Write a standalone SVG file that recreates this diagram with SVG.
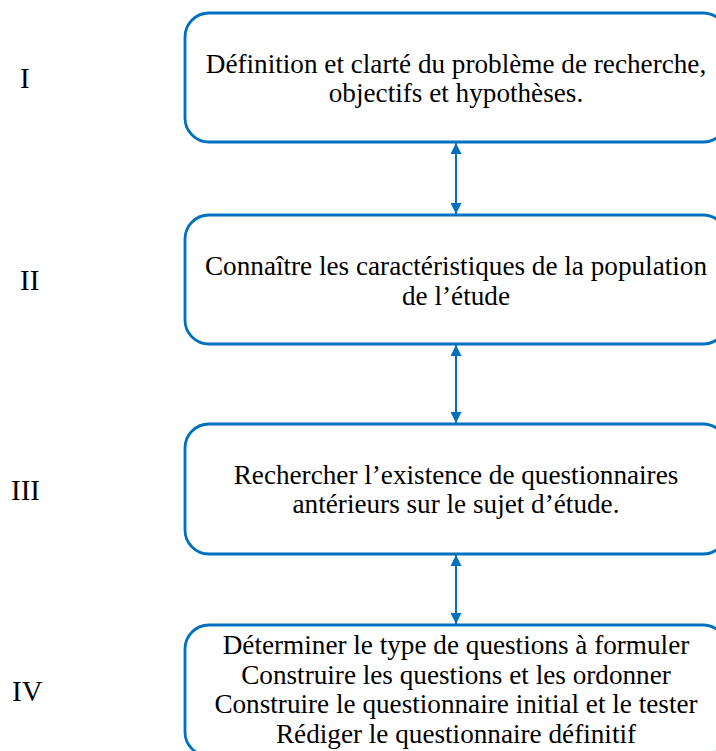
<svg xmlns="http://www.w3.org/2000/svg" width="716" height="751" viewBox="0 0 716 751">
<style>
.box{fill:#fff;stroke:#0070C0;stroke-width:2.8}
.t{font-family:"Liberation Serif","Times New Roman",serif;font-size:27.2px;fill:#000;text-anchor:middle}
.n{font-family:"Liberation Serif","Times New Roman",serif;font-size:29px;fill:#000}
.c{stroke:#0070C0;stroke-width:2;fill:none;marker-start:url(#ah);marker-end:url(#ah)}
</style>
<defs>
<marker id="ah" viewBox="0 0 10 10" refX="10" refY="5" markerWidth="11" markerHeight="11" markerUnits="userSpaceOnUse" orient="auto-start-reverse">
<path d="M0,0 L10,5 L0,10 z" fill="#0070C0"/>
</marker>
</defs>
<rect width="716" height="751" fill="#fff"/>
<g id="labels">
<text class="n" x="20" y="88">I</text>
<text class="n" x="20" y="290">II</text>
<text class="n" x="11" y="500">III</text>
<text class="n" x="12" y="701">IV</text>
</g>
<g id="node1">
<rect class="box" x="185" y="13" width="542" height="129" rx="24"/>
<text class="t" x="456" y="72.5">Définition et clarté du problème de recherche,</text>
<text class="t" x="456" y="102">objectifs et hypothèses.</text>
</g>
<g id="node2">
<rect class="box" x="185" y="215" width="542" height="129" rx="24"/>
<text class="t" x="456" y="275">Connaître les caractéristiques de la population</text>
<text class="t" x="456" y="304.5">de l’étude</text>
</g>
<g id="node3">
<rect class="box" x="185" y="424" width="542" height="130" rx="24"/>
<text class="t" x="456" y="483.5">Rechercher l’existence de questionnaires</text>
<text class="t" x="456" y="513">antérieurs sur le sujet d’étude.</text>
</g>
<g id="node4">
<rect class="box" x="185" y="625" width="542" height="131" rx="24"/>
<text class="t" x="456" y="654">Déterminer le type de questions à formuler</text>
<text class="t" x="456" y="683.5">Construire les questions et les ordonner</text>
<text class="t" x="456" y="713">Construire le questionnaire initial et le tester</text>
<text class="t" x="456" y="742.5">Rédiger le questionnaire définitif</text>
</g>
<g id="connectors">
<line class="c" x1="456" y1="143" x2="456" y2="214"/>
<line class="c" x1="456" y1="345" x2="456" y2="423"/>
<line class="c" x1="456" y1="555" x2="456" y2="624"/>
</g>
</svg>
